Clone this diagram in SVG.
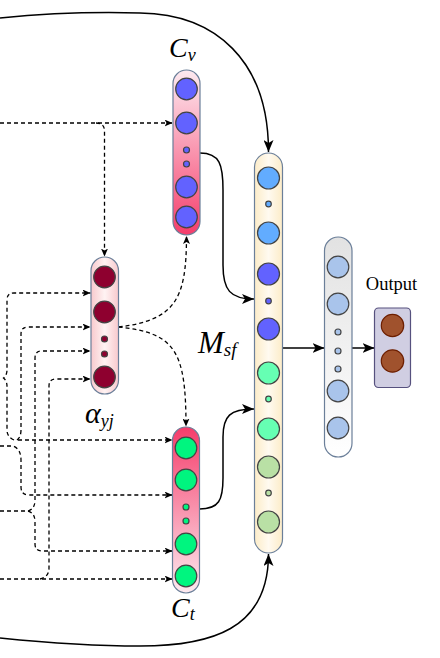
<svg xmlns="http://www.w3.org/2000/svg" width="440" height="658" viewBox="0 0 440 658">
<style>
.pill{stroke:#6b7f99;stroke-width:1.2}
.c{stroke:#444;stroke-width:1.2}
.solid{fill:none;stroke:#000;stroke-width:1.5}
.dash{fill:none;stroke:#000;stroke-width:1.3;stroke-dasharray:4 3}
.math{font-family:"Liberation Serif","DejaVu Serif",serif;font-style:italic;fill:#000}
.lbl{font-family:"Liberation Serif","DejaVu Serif",serif;fill:#000}
.cv{fill:#6262ff}.lb{fill:#62acff}.mint{fill:#66ffb3}.ol{fill:#b9e0a5}.ct{fill:#00f57f}.al{fill:#8e002f}.gr{fill:#a9c4eb}.br{fill:#a0522d;stroke:#6d1f00;stroke-width:1.2}
</style>
<defs>
<linearGradient id="gCv" x1="0" y1="0" x2="0" y2="1"><stop offset="0" stop-color="#fdeaf0"/><stop offset="1" stop-color="#f53d6b"/></linearGradient>
<linearGradient id="gCt" x1="0" y1="0" x2="0" y2="1"><stop offset="0" stop-color="#f53d6b"/><stop offset="1" stop-color="#fdeaf0"/></linearGradient>
<linearGradient id="gAl" x1="0" y1="0" x2="1" y2="0"><stop offset="0" stop-color="#f8c9cd"/><stop offset="0.5" stop-color="#fff3f3"/><stop offset="1" stop-color="#f8c9cd"/></linearGradient>
<linearGradient id="gMs" x1="0" y1="0" x2="1" y2="0"><stop offset="0" stop-color="#fcecc8"/><stop offset="0.5" stop-color="#fffaf0"/><stop offset="1" stop-color="#fcecc8"/></linearGradient>
<linearGradient id="gGr" x1="0" y1="0" x2="0" y2="1"><stop offset="0" stop-color="#e2e2e2"/><stop offset="1" stop-color="#ffffff"/></linearGradient>
<marker id="big" markerUnits="userSpaceOnUse" viewBox="0 0 12 10" refX="12" refY="5" markerWidth="12" markerHeight="10" orient="auto"><path d="M0,0 L12,5 L0,10 L3,5 z" fill="#000"/></marker>
<marker id="sm" markerUnits="userSpaceOnUse" viewBox="0 0 8 7" refX="8" refY="3.5" markerWidth="8" markerHeight="7" orient="auto"><path d="M0,0 L8,3.5 L0,7 L2,3.5 z" fill="#000"/></marker>
</defs>

<g id="connectors">
<path class="solid" d="M 0 18 Q 70 11 140 13 C 215 14, 268.5 60, 268.5 152" marker-end="url(#big)"/>
<path class="solid" d="M 0 638 C 50 643, 100 646, 140 646 C 210 646, 268.5 630, 268.5 554" marker-end="url(#big)"/>
<path class="solid" d="M 200 153 C 220 153, 223 165, 223 190 L 223 265 C 223 290, 230 299, 254 299" marker-end="url(#big)"/>
<path class="solid" d="M 199.5 509 C 219 509, 223 500, 223 478 L 223 437 C 223 416, 230 409, 254 409" marker-end="url(#big)"/>
<path class="solid" d="M 282.5 348 L 324.5 348" marker-end="url(#big)"/>
<path class="solid" d="M 352 348 L 374.5 348" marker-end="url(#big)"/>

<path class="dash" d="M 0 123 L 172.5 123" marker-end="url(#sm)"/>
<path class="dash" d="M 96 123 Q 104.5 123 104.5 131 L 104.5 256.5" marker-end="url(#sm)"/>
<path class="dash" d="M 118.5 327 C 175 320, 186.5 300, 186.5 236" marker-end="url(#sm)"/>
<path class="dash" d="M 118.5 327 C 175 333, 186 350, 186 426.5" marker-end="url(#sm)"/>

<path class="dash" d="M 14 440 Q 7 437 7 430 L 7 386 Q 7 381 3.5 378 Q 7 375 7 370 L 7 300 Q 7 293 14 293 L 90.5 293" marker-end="url(#sm)"/>
<path class="dash" d="M 17 440 Q 21 437 21 430 L 21 334 Q 21 327 28 327 L 90.5 327" marker-end="url(#sm)"/>
<path class="dash" d="M 18 440 L 172.5 440" marker-end="url(#sm)"/>
<path class="dash" d="M 0 446 L 13 446 Q 21 449 21 460 L 21 487 Q 21 495 29 495 L 172.5 495" marker-end="url(#sm)"/>
<path class="dash" d="M 0 511 L 28 511 Q 35 509 35 500 L 35 358 Q 35 351 42 351 L 90.5 351" marker-end="url(#sm)"/>
<path class="dash" d="M 28 511 Q 35 513 35 522 L 35 544 Q 35 551 42 551 L 172.5 551" marker-end="url(#sm)"/>
<path class="dash" d="M 40 579 Q 49 577 49 568 L 49 386 Q 49 379 56 379 L 90.5 379" marker-end="url(#sm)"/>
<path class="dash" d="M 0 579 L 172.5 579" marker-end="url(#sm)"/>
</g>

<g id="Cv">
<rect class="pill" x="173" y="70" width="27" height="165" rx="13.5" fill="url(#gCv)"/>
<circle class="c cv" cx="186.5" cy="89" r="10.8"/>
<circle class="c cv" cx="186.5" cy="123" r="10.8"/>
<circle class="c cv" cx="186.5" cy="150" r="3"/>
<circle class="c cv" cx="186.5" cy="164" r="3"/>
<circle class="c cv" cx="186.5" cy="187" r="10.8"/>
<circle class="c cv" cx="186.5" cy="217" r="10.8"/>
<text class="math" x="169" y="57" font-size="28">C<tspan font-size="18" dy="4">v</tspan></text>
</g>

<g id="Ct">
<rect class="pill" x="172.5" y="427" width="27" height="166" rx="13.5" fill="url(#gCt)"/>
<circle class="c ct" cx="186" cy="448" r="10.8"/>
<circle class="c ct" cx="186" cy="480" r="10.8"/>
<circle class="c ct" cx="186" cy="507" r="3"/>
<circle class="c ct" cx="186" cy="521" r="3"/>
<circle class="c ct" cx="186" cy="544" r="10.8"/>
<circle class="c ct" cx="186" cy="576" r="10.8"/>
<text class="math" x="171" y="617" font-size="28">C<tspan font-size="18" dy="3">t</tspan></text>
</g>

<g id="alpha">
<rect class="pill" x="91" y="257" width="27.5" height="137" rx="13.75" fill="url(#gAl)"/>
<circle class="c al" cx="104.5" cy="277" r="10.8"/>
<circle class="c al" cx="104.5" cy="312" r="10.8"/>
<circle class="c al" cx="104.5" cy="339" r="3"/>
<circle class="c al" cx="104.5" cy="354" r="3"/>
<circle class="c al" cx="104.5" cy="377" r="10.8"/>
<text class="math" x="85" y="423" font-size="30">α<tspan font-size="18" dy="4">yj</tspan></text>
</g>

<g id="Msf">
<rect class="pill" x="254.5" y="153" width="28" height="400" rx="14" fill="url(#gMs)"/>
<circle class="c lb" cx="268.5" cy="178" r="11"/>
<circle class="c lb" cx="268.5" cy="204" r="2.8"/>
<circle class="c lb" cx="268.5" cy="233" r="11"/>
<circle class="c cv" cx="268.5" cy="274" r="11"/>
<circle class="c cv" cx="268.5" cy="301" r="2.8"/>
<circle class="c cv" cx="268.5" cy="329" r="11"/>
<circle class="c mint" cx="268.5" cy="373" r="11"/>
<circle class="c mint" cx="268.5" cy="399" r="2.8"/>
<circle class="c mint" cx="268.5" cy="429" r="11"/>
<circle class="c ol" cx="268.5" cy="467" r="11"/>
<circle class="c ol" cx="268.5" cy="493" r="2.8"/>
<circle class="c ol" cx="268.5" cy="522" r="11"/>
<text class="math" x="198" y="353" font-size="31">M<tspan font-size="19" dy="3">sf</tspan></text>
</g>

<g id="hidden">
<rect class="pill" x="324.5" y="237" width="27.5" height="220" rx="13.75" fill="url(#gGr)"/>
<circle class="c gr" cx="338" cy="267" r="10.8"/>
<circle class="c gr" cx="338" cy="304" r="10.8"/>
<circle class="c gr" cx="338" cy="332" r="3"/>
<circle class="c gr" cx="338" cy="351" r="3"/>
<circle class="c gr" cx="338" cy="369" r="3"/>
<circle class="c gr" cx="338" cy="391" r="10.8"/>
<circle class="c gr" cx="338" cy="428" r="10.8"/>
</g>

<g id="output">
<rect x="374.5" y="308" width="36" height="79.5" rx="4" fill="#d0cee2" stroke="#56517e" stroke-width="1.2"/>
<circle class="br" cx="392.5" cy="325.5" r="11.2"/>
<circle class="br" cx="392.5" cy="361" r="11.2"/>
<text class="lbl" x="391.5" y="290" font-size="18.5" text-anchor="middle">Output</text>
</g>
</svg>
